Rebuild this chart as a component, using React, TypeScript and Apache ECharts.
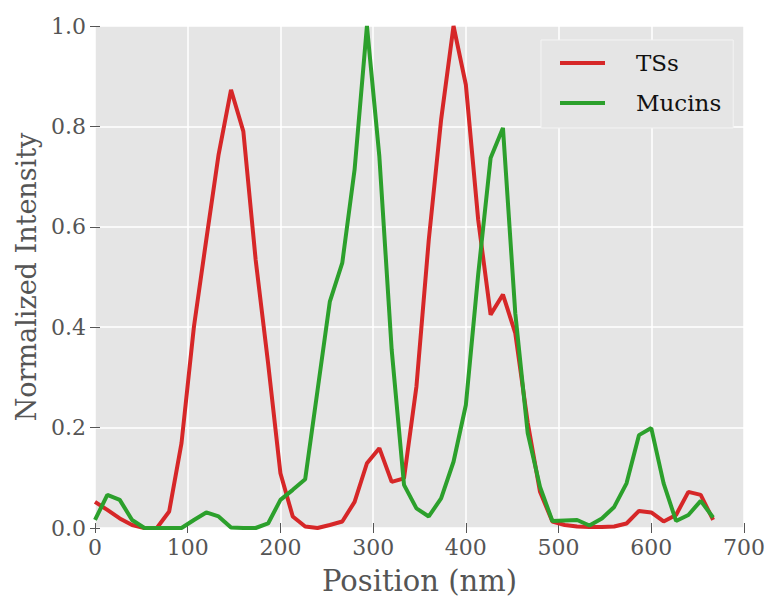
import React, { useEffect, useRef } from "react";
import * as echarts from "echarts";

// Sampling positions along the line scan (nm)
const positions = [
  0, 13.3, 26.7, 40.0, 53.3, 66.7, 80.0, 93.3, 106.7, 120.0, 133.3, 146.7, 160.0,
  173.3, 186.7, 200.0, 213.3, 226.7, 240.0, 253.3, 266.7, 280.0, 293.3, 306.7,
  320.0, 333.3, 346.7, 360.0, 373.3, 386.7, 400.0, 413.3, 426.7, 440.0, 453.3,
  466.7, 480.0, 493.3, 506.7, 520.0, 533.3, 546.7, 560.0, 573.3, 586.7, 600.0,
  613.3, 626.7, 640.0, 653.3, 666.7,
];

// Normalized intensity of the TSs channel
const tssIntensity = [
  0.052, 0.036, 0.019, 0.006, 0.0, 0.0, 0.033, 0.169, 0.401, 0.574, 0.744, 0.873,
  0.79, 0.534, 0.328, 0.109, 0.023, 0.003, 0.0, 0.006, 0.013, 0.052, 0.129, 0.159,
  0.092, 0.099, 0.282, 0.574, 0.813, 1.0, 0.883, 0.614, 0.425, 0.465, 0.388, 0.21,
  0.072, 0.013, 0.006, 0.003, 0.002, 0.002, 0.003, 0.009, 0.034, 0.031, 0.013,
  0.026, 0.072, 0.066, 0.016,
];

// Normalized intensity of the Mucins channel
const mucinsIntensity = [
  0.016, 0.066, 0.056, 0.016, 0.0, 0.0, 0.0, 0.0, 0.016, 0.031, 0.023, 0.001, 0.0,
  0.0, 0.009, 0.056, 0.076, 0.097, 0.274, 0.451, 0.528, 0.714, 1.0, 0.74, 0.355,
  0.086, 0.039, 0.023, 0.059, 0.132, 0.245, 0.505, 0.737, 0.797, 0.428, 0.189,
  0.082, 0.014, 0.015, 0.016, 0.005, 0.019, 0.042, 0.089, 0.185, 0.199, 0.089,
  0.014, 0.026, 0.054, 0.021,
];

const seriesNames = ["TSs", "Mucins"];
const seriesColors = ["#d62728", "#2ca02c"];

const xRange = { min: 0, max: 700, interval: 100 };
const yRange = { min: 0, max: 1, interval: 0.2 };

const FONT = "DejaVu Serif";
const TICK_COLOR = "#555555";

export default function App() {
  const ref = useRef<HTMLDivElement>(null);

  useEffect(() => {
    if (!ref.current) return;
    const chart = echarts.init(ref.current, null, { renderer: "svg" });

    const pair = (ys: number[]) => positions.map((x, i) => [x, ys[i]]);

    const tickOnly = {
      axisLabel: { show: false },
      axisLine: { show: false },
      splitLine: { show: false },
      axisTick: { show: true, inside: false, length: 5, lineStyle: { color: TICK_COLOR, width: 1 } },
    };

    chart.setOption({
      animation: false,
      backgroundColor: "#ffffff",
      textStyle: { fontFamily: FONT },
      grid: {
        left: 95,
        right: 25,
        top: 26,
        bottom: 77,
        show: true,
        backgroundColor: "#e5e5e5",
        borderWidth: 0,
      },
      legend: {
        orient: "vertical",
        left: 541,
        top: 40,
        padding: [8, 12, 10, 19],
        itemGap: 10,
        itemWidth: 45,
        itemHeight: 4,
        icon: "rect",
        backgroundColor: "#e5e5e5",
        borderColor: "#f4f4f4",
        borderWidth: 1,
        textStyle: {
          fontFamily: FONT,
          fontSize: 23,
          color: "#111111",
          lineHeight: 30,
          padding: [0, 0, 0, 26],
        },
        data: seriesNames,
      },
      xAxis: [
        {
          type: "value",
          ...xRange,
          name: "Position (nm)",
          nameLocation: "middle",
          nameGap: 38,
          nameTextStyle: { fontFamily: FONT, fontSize: 29, color: TICK_COLOR },
          axisLine: { show: false },
          axisTick: { show: true, length: 5, lineStyle: { color: TICK_COLOR, width: 1 } },
          axisLabel: {
            fontFamily: FONT,
            fontSize: 22,
            color: TICK_COLOR,
            margin: 8,
            showMinLabel: true,
            showMaxLabel: true,
          },
          splitLine: { show: true, lineStyle: { color: "#ffffff", width: 1.5 } },
        },
        { type: "value", position: "top", ...xRange, ...tickOnly },
      ],
      yAxis: [
        {
          type: "value",
          ...yRange,
          name: "Normalized Intensity",
          nameLocation: "middle",
          nameGap: 50,
          nameTextStyle: { fontFamily: FONT, fontSize: 27, color: TICK_COLOR },
          axisLine: { show: false },
          axisTick: { show: true, length: 5, lineStyle: { color: TICK_COLOR, width: 1 } },
          axisLabel: {
            fontFamily: FONT,
            fontSize: 22,
            color: TICK_COLOR,
            margin: 9,
            formatter: (v: number) => v.toFixed(1),
          },
          splitLine: { show: true, lineStyle: { color: "#ffffff", width: 1.5 } },
        },
        { type: "value", position: "right", ...yRange, ...tickOnly },
      ],
      series: [
        {
          name: seriesNames[0],
          type: "line",
          data: pair(tssIntensity),
          showSymbol: false,
          symbol: "none",
          clip: true,
          lineStyle: { color: seriesColors[0], width: 4 },
          itemStyle: { color: seriesColors[0] },
          z: 2,
        },
        {
          name: seriesNames[1],
          type: "line",
          data: pair(mucinsIntensity),
          showSymbol: false,
          symbol: "none",
          clip: true,
          lineStyle: { color: seriesColors[1], width: 4 },
          itemStyle: { color: seriesColors[1] },
          z: 3,
        },
      ],
    });

    return () => chart.dispose();
  }, []);

  return (
    <div
      ref={ref}
      style={{ position: "fixed", left: 0, top: 0, width: 769, height: 605 }}
    />
  );
}
